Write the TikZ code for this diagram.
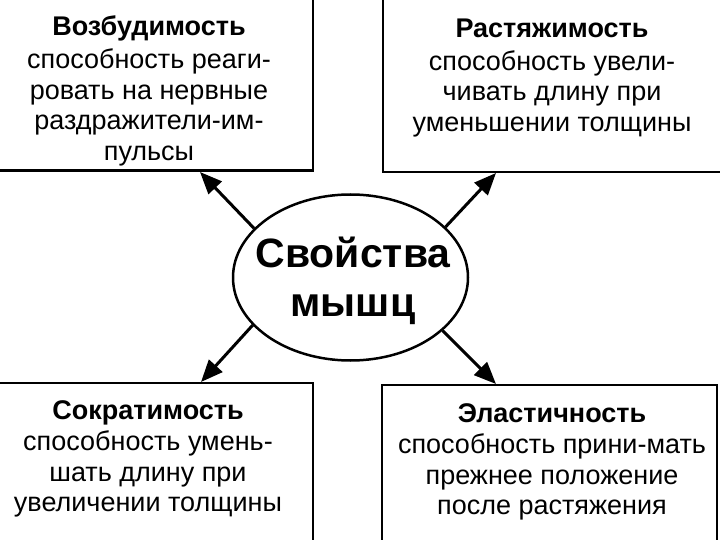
\documentclass[tikz,border=0pt]{standalone}
\usepackage{fontspec}
\setmainfont{Liberation Sans}
\usetikzlibrary{arrows.meta,shapes.geometric}
\tikzset{
  box/.style={draw, line width=2.5pt, rectangle, inner sep=0pt},
  txt/.style={align=center, font=\fontsize{27}{30.8}\selectfont, inner sep=0pt},
  arr/.style={line width=3pt, -{Triangle[length=22pt,width=18pt]}},
}
\begin{document}
\begin{tikzpicture}[x=1pt,y=-1pt]
\useasboundingbox (0,0) rectangle (720,540);
\fill[white] (0,0) rectangle (720,540);
% boxes
\node[box, minimum width=320pt, minimum height=177pt] (tl) at (153,82) {};
\node[box, minimum width=345pt, minimum height=179pt] (tr) at (555.5,82.5) {};
\node[box, minimum width=320pt, minimum height=165pt] (bl) at (153,465.5) {};
\node[box, minimum width=335pt, minimum height=163pt] (br) at (549.5,466.5) {};
% texts
\node[txt] (tlt) at (149,91) {\textbf{Возбудимость}\\[2pt]способность реаги-\\ровать на нервные\\раздражители-им-\\пульсы};
\node[txt] (trt) at (552,78) {\textbf{Растяжимость}\\[2pt]способность увели-\\чивать длину при\\уменьшении толщины};
\node[txt] (blt) at (148,459) {\textbf{Сократимость}\\способность умень-\\шать длину при\\увеличении толщины};
\node[txt] (brt) at (552,462) {\textbf{Эластичность}\\способность прини-мать\\прежнее положение\\после растяжения};
% centre
\node[draw, ellipse, line width=2.5pt, minimum width=235pt, minimum height=166pt, inner sep=0pt] (c) at (350.5,277.5) {};
\node[align=center, inner sep=0pt, font=\bfseries\fontsize{41}{49}\selectfont] (ct) at (353,281) {Свойства\\мышц};
% arrow tips
\coordinate (p1) at (200,172);
\coordinate (p2) at (496,173);
\coordinate (p3) at (201,382);
\coordinate (p4) at (496,384);
\draw[arr] (c.153) -- (p1);
\draw[arr] (c.28) -- (p2);
\draw[arr] (c.206) -- (p3);
\draw[arr] (c.-30) -- (p4);
\end{tikzpicture}
\end{document}
